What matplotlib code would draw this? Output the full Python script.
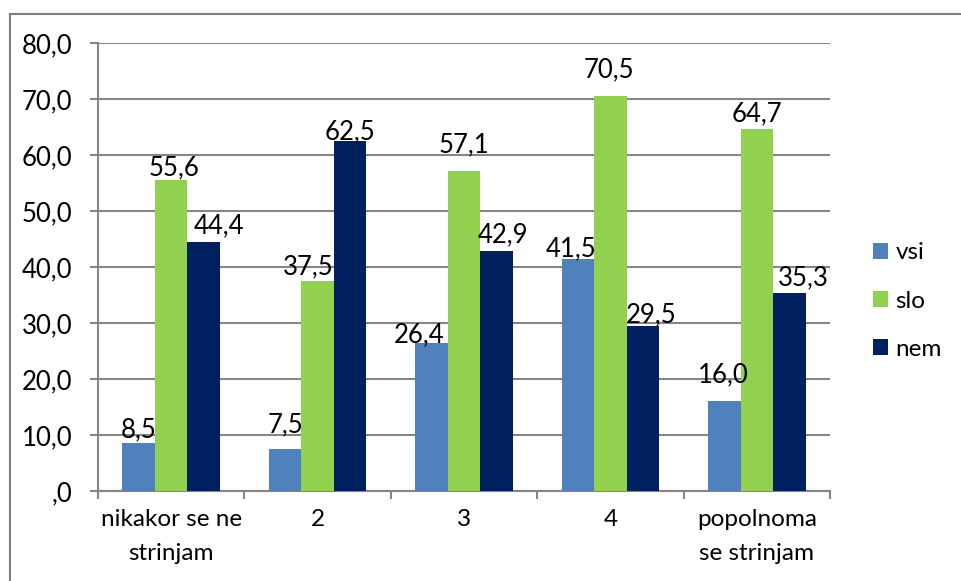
import matplotlib
matplotlib.use("Agg")
import matplotlib.pyplot as plt
import numpy as np
from matplotlib.lines import Line2D

categories = ["nikakor se ne\nstrinjam", "2", "3", "4", "popolnoma\nse strinjam"]
series_names = ["vsi", "slo", "nem"]
vsi = [8.5, 7.5, 26.4, 41.5, 16.0]
slo = [55.6, 37.5, 57.1, 70.5, 64.7]
nem = [44.4, 62.5, 42.9, 29.5, 35.3]
y_ticks = [0, 10, 20, 30, 40, 50, 60, 70, 80]
y_tick_labels = [",0", "10,0", "20,0", "30,0", "40,0", "50,0", "60,0", "70,0", "80,0"]

colors = ["#4F81BD", "#92D050", "#002060"]
# manual label offsets in pixels (dx, dy) as moved in the original
label_dx = [[0, 0, -12, -7, -1], [3, -9, 0, -1, 0], [15, 0, 6, 8, 14]]
label_dy = [[6, 17, 1, 2, 19], [4, 7, 19, 19, 7], [9, 2, 8, 3, 8]]

plt.rcParams["font.family"] = ["Lato", "DejaVu Sans"]
FS_NUM = 18.5
FS_TXT = 17.5
GRAY = "#868686"

fig = plt.figure(figsize=(9.61, 5.81), dpi=100)
ax = fig.add_axes([98 / 961, 1 - 491 / 581, (830 - 98) / 961, (491 - 43) / 581])

x = np.arange(len(categories))
w = 1 / 4.5
data = [vsi, slo, nem]
for i, (name, vals) in enumerate(zip(series_names, data)):
    xs = x + (i - 1) * w
    ax.bar(xs, vals, width=w, color=colors[i], label=name, zorder=3, linewidth=0)
    for j, v in enumerate(vals):
        ax.annotate(f"{v:.1f}".replace(".", ","), (xs[j], v),
                    xytext=(label_dx[i][j], label_dy[i][j]), textcoords="offset pixels",
                    ha="center", va="baseline", fontsize=FS_NUM, color="black", zorder=5)

ax.set_xlim(-0.5, len(categories) - 0.5)
ax.set_ylim(0, 80)
ax.set_yticks(y_ticks)
ax.set_yticklabels(y_tick_labels)
ax.yaxis.grid(True, color=GRAY, linewidth=1.5, zorder=0)
ax.set_axisbelow(True)

ax.set_xticks(np.arange(-0.5, len(categories)), minor=False)
ax.set_xticklabels([""] * (len(categories) + 1))
ax.set_xticks(x, minor=True)
ax.set_xticklabels(categories, minor=True, fontsize=FS_TXT, linespacing=1.75, va="top")
ax.tick_params(axis="x", which="minor", length=0, pad=13)
ax.tick_params(axis="x", which="major", length=6, width=1.5, color=GRAY, direction="out")
ax.tick_params(axis="y", length=6, width=1.5, color=GRAY, direction="out", pad=12.5, labelsize=FS_NUM)

for s in ["top", "right"]:
    ax.spines[s].set_visible(False)
for s in ["left", "bottom"]:
    ax.spines[s].set_color(GRAY)
    ax.spines[s].set_linewidth(1.5)

leg = fig.legend(loc="center left", bbox_to_anchor=(873 / 961, 1 - 301 / 581), frameon=False,
                 fontsize=FS_TXT, handlelength=0.62, handleheight=0.62, handletextpad=0.3,
                 labelspacing=1.12, borderpad=0, borderaxespad=0)

# outer frame (top & left visible)
fx = 9.5 / 961
fy = 1 - 13.5 / 581
fig.add_artist(Line2D([fx, fx], [0, fy], color="#808080", linewidth=1.5, transform=fig.transFigure))
fig.add_artist(Line2D([fx, 1], [fy, fy], color="#808080", linewidth=1.5, transform=fig.transFigure))

fig.savefig("out.png", dpi=100, facecolor="white")
